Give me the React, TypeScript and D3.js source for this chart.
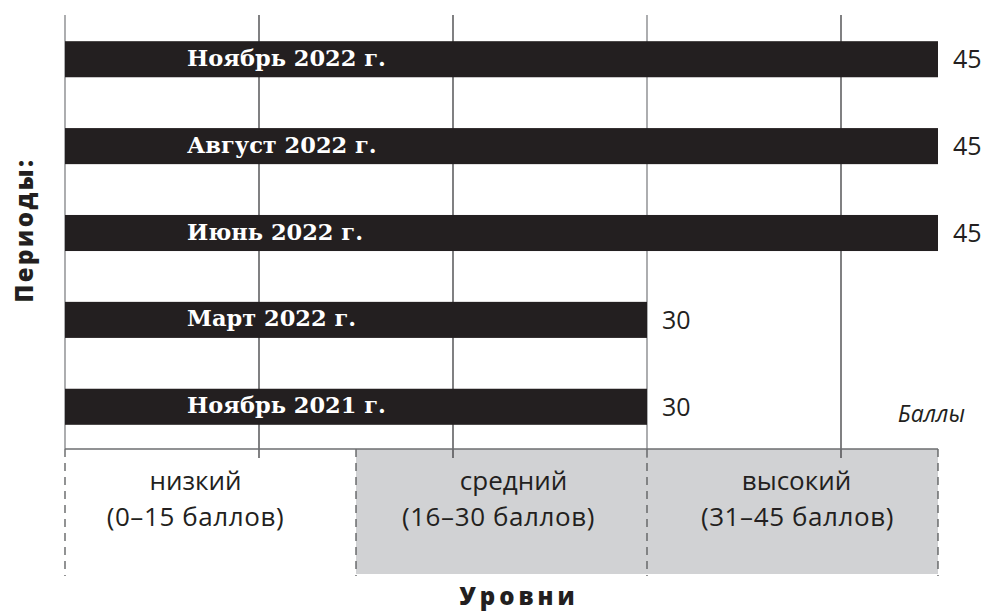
import React from "react";
import * as d3 from "d3";

const periods = ["Ноябрь 2022 г.", "Август 2022 г.", "Июнь 2022 г.", "Март 2022 г.", "Ноябрь 2021 г."];
const scores = [45, 45, 45, 30, 30];
const gridTicks = [0, 10, 20, 30, 40];
const levelNames = ["низкий", "средний", "высокий"];
const levelRanges = ["(0–15 баллов)", "(16–30 баллов)", "(31–45 баллов)"];
const levelBounds = [0, 15, 30, 45];
const levelShaded = [false, true, true];

const W = 985;
const H = 611;
const INK = "#231f20";
const GRID = "#6d6e71";
const SANS = "'Open Sans', 'Noto Sans', sans-serif";
const SERIF = "'DejaVu Serif', serif";

export default function App() {
  const x = d3.scaleLinear().domain([0, 45]).range([65, 938]);
  const y = d3.scaleBand<string>().domain(periods).range([16, 450]).paddingInner(0.585).paddingOuter(0.29);
  const axisY = 449;
  const zoneBottom = 574;
  const nameDx = [-15, 12, 4];
  const rangeDx = [-15, -3, 5];

  return (
    <svg width={W} height={H} style={{ position: "absolute", left: 0, top: 0, background: "#fff" }}>
      {levelNames.map((n, i) =>
        levelShaded[i] ? (
          <rect key={"z" + i} x={x(levelBounds[i])} y={axisY} width={x(levelBounds[i + 1]) - x(levelBounds[i])} height={zoneBottom - axisY} fill="#d1d2d4" />
        ) : null
      )}
      {levelBounds.map((b, i) => (
        <line key={"d" + i} x1={x(b)} x2={x(b)} y1={axisY} y2={zoneBottom + 2} stroke="#58595b" strokeWidth={1.3} strokeDasharray="8,6" />
      ))}
      {gridTicks.map((t) => (
        <line key={"g" + t} x1={x(t)} x2={x(t)} y1={15} y2={t === 0 ? axisY : axisY + 9} stroke={t === 0 || t === 30 ? "#808285" : "#3d3d3f"} strokeWidth={1.3} />
      ))}
      <line x1={x(0)} x2={x(45)} y1={axisY} y2={axisY} stroke={GRID} strokeWidth={1.6} />
      {periods.map((p, i) => (
        <g key={p}>
          <rect x={x(0)} y={y(p)} width={x(scores[i]) - x(0)} height={y.bandwidth()} fill={INK} />
          <text x={x(0) + 122} y={(y(p) as number) + y.bandwidth() / 2 + 6.5} fill="#fff" fontFamily={SERIF} fontWeight="bold" fontSize={22.5}>
            {p}
          </text>
          <text x={x(scores[i]) + 15} y={(y(p) as number) + y.bandwidth() / 2 + 9} fill={INK} fontFamily={SANS} fontSize={25}>
            {scores[i]}
          </text>
        </g>
      ))}
      {levelNames.map((n, i) => {
        const cx = (x(levelBounds[i]) + x(levelBounds[i + 1])) / 2;
        return (
          <g key={"l" + i}>
            <text x={cx + nameDx[i]} y={490} textAnchor="middle" fill={INK} fontFamily={SANS} fontSize={26}>{n}</text>
            <text x={cx + rangeDx[i]} y={526} textAnchor="middle" fill={INK} fontFamily={SANS} fontSize={26} letterSpacing={0.6}>{levelRanges[i]}</text>
          </g>
        );
      })}
      <text x={965} y={422} textAnchor="end" fill={INK} fontFamily={SANS} fontStyle="italic" fontSize={23}>Баллы</text>
      <text x={519} y={605} textAnchor="middle" fill={INK} fontFamily={SANS} fontWeight={800} fontSize={24} letterSpacing={4}>Уровни</text>
      <text transform="translate(33,230) rotate(-90)" textAnchor="middle" fill={INK} fontFamily={SANS} fontWeight={800} fontSize={24} letterSpacing={2.5}>Периоды:</text>
    </svg>
  );
}
